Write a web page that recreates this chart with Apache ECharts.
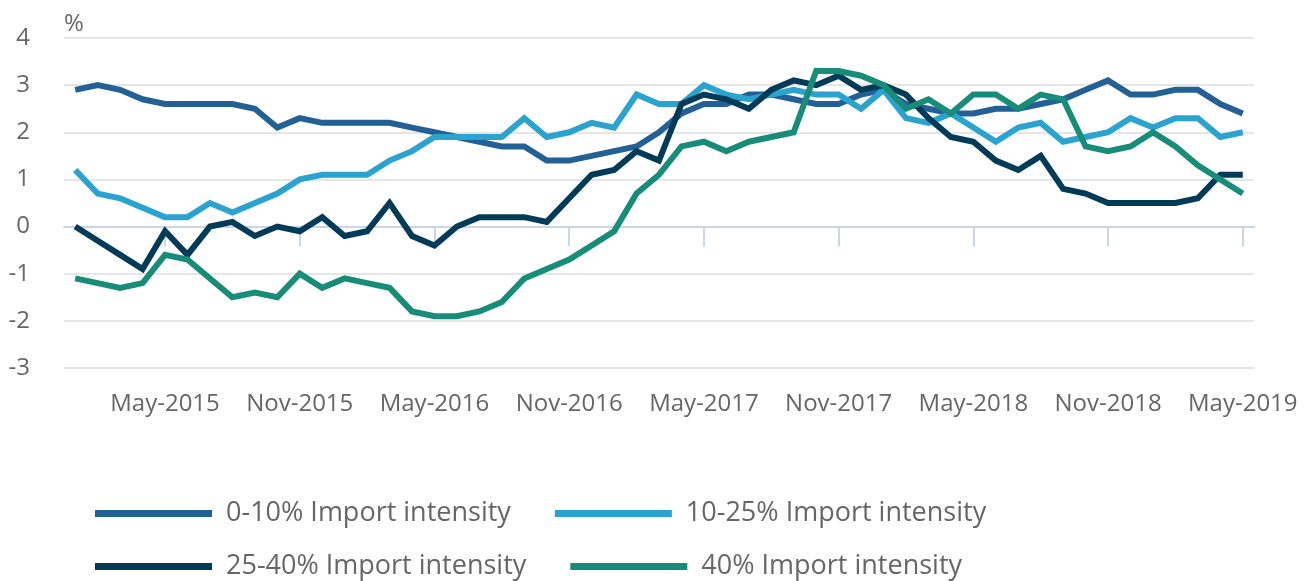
<!DOCTYPE html>
<html>
<head>
<meta charset="utf-8">
<script src="https://cdn.jsdelivr.net/npm/echarts@6/dist/echarts.min.js"></script>
<style>
html,body{margin:0;padding:0;background:#fff;}
#chart{width:1309px;height:581px;}
</style>
</head>
<body>
<div id="chart"></div>
<script>
const months = [
  'Jan-2015','Feb-2015','Mar-2015','Apr-2015','May-2015','Jun-2015','Jul-2015','Aug-2015','Sep-2015','Oct-2015','Nov-2015','Dec-2015',
  'Jan-2016','Feb-2016','Mar-2016','Apr-2016','May-2016','Jun-2016','Jul-2016','Aug-2016','Sep-2016','Oct-2016','Nov-2016','Dec-2016',
  'Jan-2017','Feb-2017','Mar-2017','Apr-2017','May-2017','Jun-2017','Jul-2017','Aug-2017','Sep-2017','Oct-2017','Nov-2017','Dec-2017',
  'Jan-2018','Feb-2018','Mar-2018','Apr-2018','May-2018','Jun-2018','Jul-2018','Aug-2018','Sep-2018','Oct-2018','Nov-2018','Dec-2018',
  'Jan-2019','Feb-2019','Mar-2019','Apr-2019','May-2019'
];
const seriesNames = ['0-10% Import intensity','10-25% Import intensity','25-40% Import intensity','40% Import intensity'];
const import0to10 = [2.9,3.0,2.9,2.7,2.6,2.6,2.6,2.6,2.5,2.1, 2.3,2.2,2.2,2.2,2.2,2.1,2.0,1.9,1.8,1.7, 1.7,1.4,1.4,1.5,1.6,1.7,2.0,2.4,2.6,2.6, 2.8,2.8,2.7,2.6,2.6,2.8,2.9,2.6,2.5,2.4, 2.4,2.5,2.5,2.6,2.7,2.9,3.1,2.8,2.8,2.9, 2.9,2.6,2.4];
const import10to25 = [1.2,0.7,0.6,0.4,0.2,0.2,0.5,0.3,0.5,0.7, 1.0,1.1,1.1,1.1,1.4,1.6,1.9,1.9,1.9,1.9, 2.3,1.9,2.0,2.2,2.1,2.8,2.6,2.6,3.0,2.8, 2.7,2.8,2.9,2.8,2.8,2.5,2.9,2.3,2.2,2.4, 2.1,1.8,2.1,2.2,1.8,1.9,2.0,2.3,2.1,2.3, 2.3,1.9,2.0];
const import25to40 = [0.0,-0.3,-0.6,-0.9,-0.1,-0.6,0.0,0.1,-0.2,0.0, -0.1,0.2,-0.2,-0.1,0.5,-0.2,-0.4,0.0,0.2,0.2, 0.2,0.1,0.6,1.1,1.2,1.6,1.4,2.6,2.8,2.7, 2.5,2.9,3.1,3.0,3.2,2.9,3.0,2.8,2.3,1.9, 1.8,1.4,1.2,1.5,0.8,0.7,0.5,0.5,0.5,0.5, 0.6,1.1,1.1];
const import40 = [-1.1,-1.2,-1.3,-1.2,-0.6,-0.7,-1.1,-1.5,-1.4,-1.5, -1.0,-1.3,-1.1,-1.2,-1.3,-1.8,-1.9,-1.9,-1.8,-1.6, -1.1,-0.9,-0.7,-0.4,-0.1,0.7,1.1,1.7,1.8,1.6, 1.8,1.9,2.0,3.3,3.3,3.2,3.0,2.5,2.7,2.4, 2.8,2.8,2.5,2.8,2.7,1.7,1.6,1.7,2.0,1.7, 1.3,1.0,0.7];
const yTicks = [-3,-2,-1,0,1,2,3,4];
const colors = ['#236096','#2aa3cf','#023b58','#178d79'];

const allData = [import0to10, import10to25, import25to40, import40];
const FONT = "'Open Sans', sans-serif";
const showLabel = (i) => i % 6 === 4;
const legendText = { color: '#666666', fontSize: 27, fontFamily: FONT, padding: [0, 0, 0, 9] };

const chart = echarts.init(document.getElementById('chart'));
chart.setOption({
  animation: false,
  backgroundColor: '#ffffff',
  grid: { left: 64, right: 55, top: 38, bottom: 213, containLabel: false, outerBoundsMode: 'none' },
  graphic: [{ type: 'text', left: 64, top: 12, style: { text: '%', font: "24px 'Open Sans', sans-serif", fill: '#666666' } }],
  xAxis: {
    type: 'category',
    data: months,
    boundaryGap: true,
    axisLine: { show: true, lineStyle: { color: '#c9d5ea', width: 2 } },
    axisTick: { show: true, alignWithLabel: true, interval: showLabel, length: 20, lineStyle: { color: '#c9d5ea', width: 2 } },
    axisLabel: { interval: showLabel, color: '#666666', fontSize: 24, fontFamily: FONT, margin: 24 },
    splitLine: { show: false }
  },
  yAxis: {
    type: 'value',
    min: yTicks[0], max: yTicks[yTicks.length - 1], interval: 1,
    axisLine: { show: false },
    axisTick: { show: false },
    axisLabel: { color: '#666666', fontSize: 24, fontFamily: FONT, margin: 34, align: 'right' },
    splitLine: { show: true, lineStyle: { color: '#e6e6e6', width: 2 } }
  },
  legend: [
    { data: seriesNames.slice(0, 2), left: 95, top: 500, padding: 0, orient: 'horizontal', icon: 'rect', itemWidth: 117, itemHeight: 7, itemGap: 44,
      textStyle: legendText },
    { data: seriesNames.slice(2, 4), left: 95, top: 553, padding: 0, orient: 'horizontal', icon: 'rect', itemWidth: 117, itemHeight: 7, itemGap: 44,
      textStyle: legendText }
  ],
  series: seriesNames.map((name, k) => ({
    name: name,
    type: 'line',
    data: allData[k],
    symbol: 'none',
    showSymbol: false,
    smooth: false,
    color: colors[k],
    lineStyle: { width: 6, color: colors[k], join: 'miter' },
    emphasis: { disabled: true }
  }))
});
</script>
</body>
</html>
